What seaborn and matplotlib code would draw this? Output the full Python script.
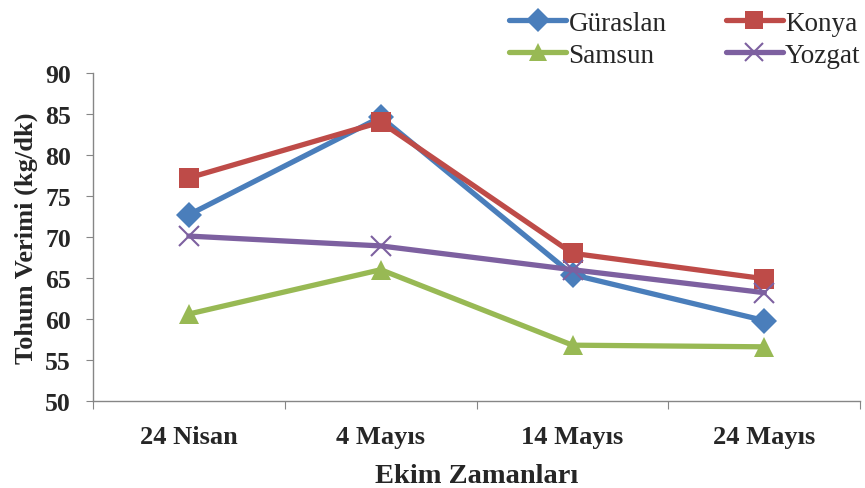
import matplotlib
matplotlib.use("Agg")
import matplotlib.pyplot as plt
import seaborn as sns
import pandas as pd
from matplotlib.ticker import FixedLocator, NullFormatter, FixedFormatter
from matplotlib.lines import Line2D

categories = ["24 Nisan", "4 Mayıs", "14 Mayıs", "24 Mayıs"]
guraslan = [72.7, 84.6, 65.4, 59.8]
konya = [77.2, 84.0, 68.0, 64.9]
samsun = [60.6, 66.0, 56.8, 56.6]
yozgat = [70.1, 68.9, 66.0, 63.2]
series_names = ["Güraslan", "Konya", "Samsun", "Yozgat"]
yticks = [50, 55, 60, 65, 70, 75, 80, 85, 90]

rows = []
for name, vals in zip(series_names, [guraslan, konya, samsun, yozgat]):
    for i, (c, v) in enumerate(zip(categories, vals)):
        rows.append({"pos": i, "Ekim": c, "Verim": v, "Cesit": name})
df = pd.DataFrame(rows)

sns.set_style("white")
plt.rcParams['font.family'] = ['Liberation Serif', 'DejaVu Serif']

palette = {"Güraslan": "#4A7EBB", "Konya": "#BE4B48", "Samsun": "#98B954", "Yozgat": "#7D60A0"}
markers = {"Güraslan": "D", "Konya": "s", "Samsun": "^", "Yozgat": "x"}
msize = {"Güraslan": 13, "Konya": 14, "Samsun": 14, "Yozgat": 14}
mew = {"Güraslan": 0, "Konya": 0, "Samsun": 0, "Yozgat": 1.5}
LW = 3.8

fig = plt.figure(figsize=(8.65, 4.89), dpi=100)
ax = fig.add_axes([0.1075, 0.178, 0.887, 0.671])
for n in series_names:
    sub = df[df["Cesit"] == n]
    sns.lineplot(data=sub, x="pos", y="Verim", color=palette[n], marker=markers[n],
                 markersize=msize[n], markeredgewidth=mew[n], markeredgecolor=palette[n],
                 linewidth=LW, ax=ax, sort=False, legend=False)

ax.set_xlim(-0.5, 3.5)
ax.set_ylim(50, 90)
ax.set_yticks(yticks)
ax.set_yticklabels([str(t) for t in yticks], fontsize=18.5, fontweight="bold")
ax.xaxis.set_major_locator(FixedLocator([-0.5, 0.5, 1.5, 2.5, 3.5]))
ax.xaxis.set_major_formatter(NullFormatter())
ax.xaxis.set_minor_locator(FixedLocator([0, 1, 2, 3]))
ax.xaxis.set_minor_formatter(FixedFormatter(categories))
ax.tick_params(axis="x", which="minor", length=0, pad=17, labelsize=19)
ax.tick_params(axis="x", which="major", length=6, color="#868686", direction="out", bottom=True)
ax.tick_params(axis="y", length=5, color="#868686", direction="out", pad=11, left=True)
for lbl in ax.get_xticklabels(minor=True):
    lbl.set_fontweight("bold")
ax.set_xlabel("Ekim Zamanları", fontsize=20.5, fontweight="bold", labelpad=11)
ax.set_ylabel("Tohum Verimi (kg/dk)", fontsize=19, fontweight="bold", labelpad=5)
for s in ["top", "right"]:
    ax.spines[s].set_visible(False)
for s in ["left", "bottom"]:
    ax.spines[s].set_color("#868686")
    ax.spines[s].set_linewidth(1.0)

order = ["Güraslan", "Samsun", "Konya", "Yozgat"]
handles = []
for n in order:
    handles.append(Line2D([], [], color=palette[n], lw=LW, marker=markers[n],
                          markersize=msize[n] - 1, markeredgewidth=mew[n], markeredgecolor=palette[n]))
fig.legend(handles, order, ncol=2, loc="upper left", bbox_to_anchor=(0.567, 1.015),
           frameon=False, fontsize=19.5, handlelength=2.1, handletextpad=0.08,
           columnspacing=2.2, labelspacing=0.27, borderaxespad=0.3)

fig.savefig("out.png", dpi=100)
